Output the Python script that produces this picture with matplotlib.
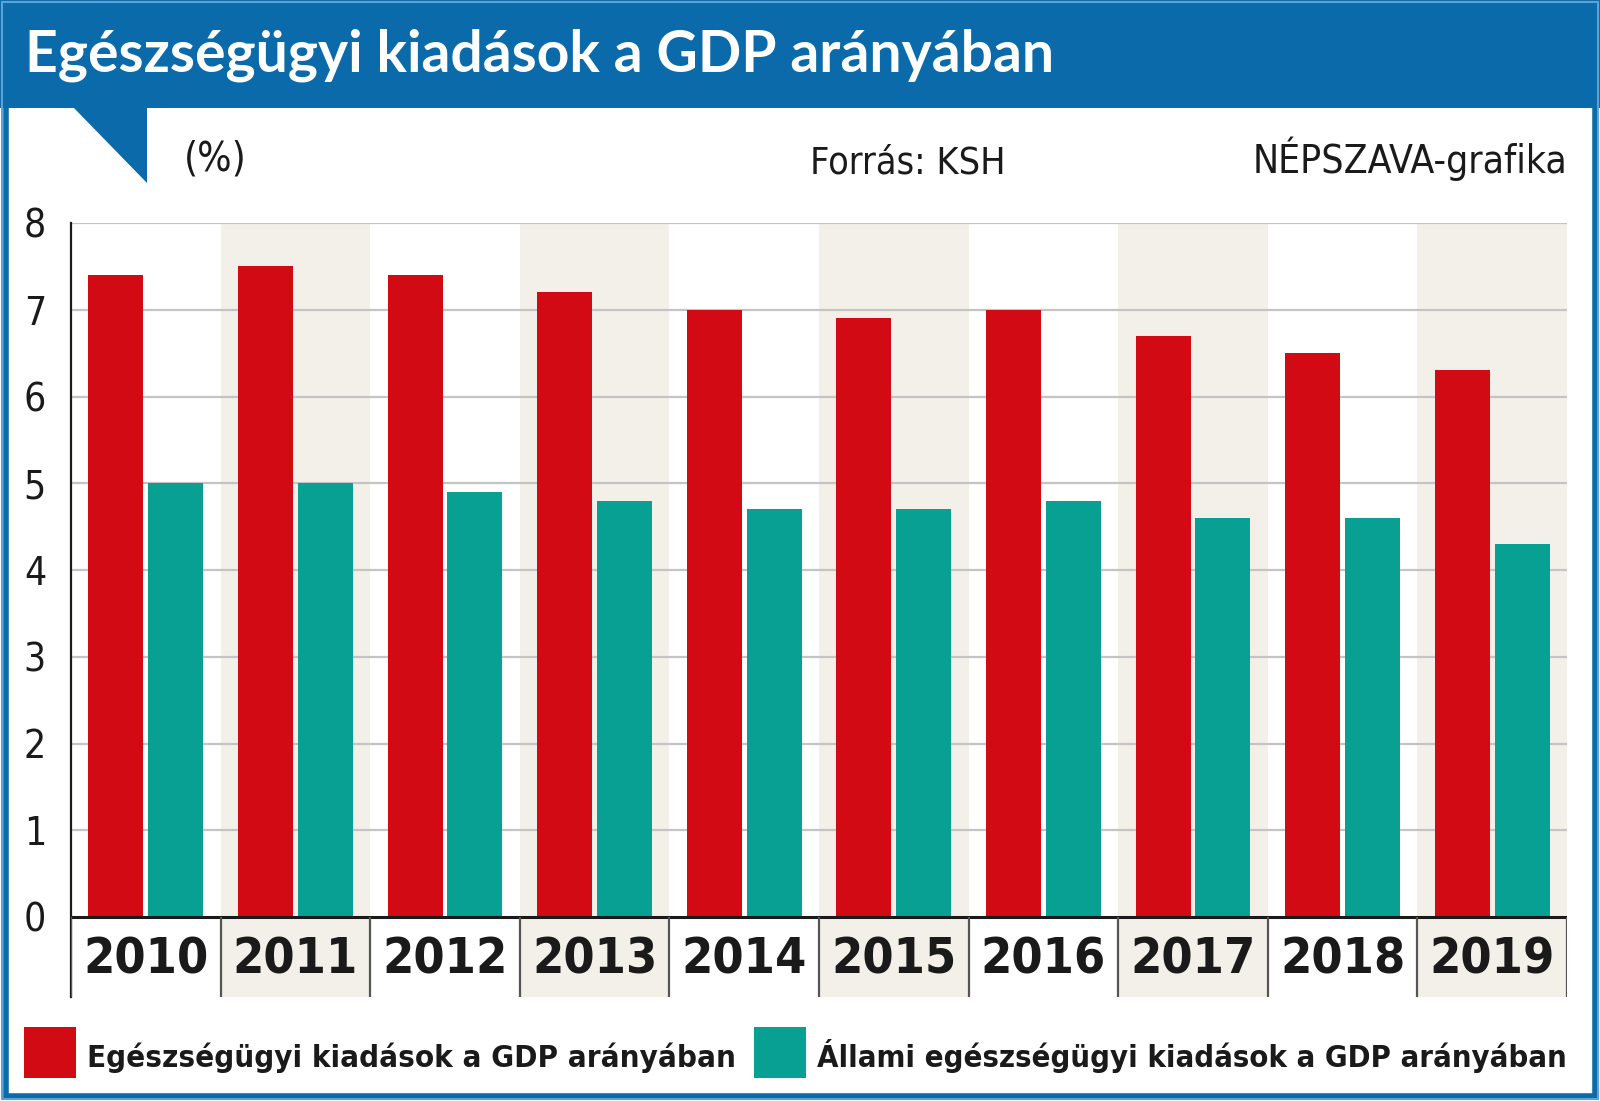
import numpy as np
import matplotlib
matplotlib.use("Agg")
from matplotlib import pyplot as plt
from matplotlib.patches import Rectangle, Polygon

years = ["2010", "2011", "2012", "2013", "2014", "2015", "2016", "2017", "2018", "2019"]
total = [7.4, 7.5, 7.4, 7.2, 7.0, 6.9, 7.0, 6.7, 6.5, 6.3]
public = [5.0, 5.0, 4.9, 4.8, 4.7, 4.7, 4.8, 4.6, 4.6, 4.3]
y_ticks = [0, 1, 2, 3, 4, 5, 6, 7, 8]

title = "Egészségügyi kiadások a GDP arányában"
label_total = "Egészségügyi kiadások a GDP arányában"
label_public = "Állami egészségügyi kiadások a GDP arányában"

BLUE = "#0b6aa9"
RED = "#d20a14"
TEAL = "#07a092"
BEIGE = "#f3f0e9"
GRID = "#c4c4c4"
INK = "#1a1a1a"
NARROW = ["DejaVu Sans Condensed", "DejaVu Sans"]
ST = "condensed"

W, H = 1600, 1101
fig = plt.figure(figsize=(W / 100, H / 100), dpi=100)

# overlay in pixel coords for the frame, title bar and legend
bg = fig.add_axes([0, 0, 1, 1], zorder=0)
bg.set_xlim(0, W)
bg.set_ylim(H, 0)
bg.axis("off")
bg.add_patch(Rectangle((0, 0), W, 108, color=BLUE, lw=0))
bg.add_patch(Polygon([(73, 107), (147, 107), (147, 183)], closed=True, color=BLUE, lw=0))
bg.add_patch(Rectangle((5.5, 5), W - 11, H - 10, fill=False, ec=BLUE, lw=4))
bg.add_patch(Rectangle((2, 2), W - 4, H - 4, fill=False, ec="#5aa3d6", lw=1.5))
bg.text(25, 72, title, color="white", fontsize=41, fontweight="bold",
        family=["Lato", "DejaVu Sans"], va="baseline")
bg.text(184, 170, "(%)", color=INK, fontsize=29, fontweight="medium", family=NARROW,
        stretch=ST, va="baseline")
bg.text(810, 173, "Forrás: KSH", color=INK, fontsize=27, family=NARROW, stretch=ST,
        va="baseline")
bg.text(1567, 173, "NÉPSZAVA-grafika", color=INK, fontsize=28, family=NARROW, stretch=ST,
        va="baseline", ha="right")

bg.add_patch(Rectangle((24, 1027), 52, 51, color=RED, lw=0))
bg.text(87, 1067, label_total, color=INK, fontsize=22.4, fontweight="bold",
        family=NARROW, stretch=ST, va="baseline")
bg.add_patch(Rectangle((754, 1027), 52, 51, color=TEAL, lw=0))
bg.text(817, 1067, label_public, color=INK, fontsize=22.2, fontweight="bold",
        family=NARROW, stretch=ST, va="baseline")

# chart axes: y=8 at px 223, y=0 at px 917, bottom of year row at px 997
left, right, top, bottom = 71, 1567, 223, 997
ax = fig.add_axes([left / W, 1 - bottom / H, (right - left) / W, (bottom - top) / H], zorder=1)
ax.patch.set_alpha(0)
ylo = -(bottom - 917) / ((917 - top) / 8)
ax.set_ylim(ylo, 8)
ax.set_xlim(-0.5, len(years) - 0.5)

x = np.arange(len(years))
for i in x:
    if i % 2 == 1:
        ax.axvspan(i - 0.5, i + 0.5, color=BEIGE, lw=0, zorder=0)
for t in y_ticks[1:]:
    ax.axhline(t, color=GRID, lw=1.6, zorder=1)

w = 0.368
ax.bar(x - 0.2, total, w, color=RED, zorder=2)
ax.bar(x + 0.2, public, w, color=TEAL, zorder=2)

ax.axhline(0, color=INK, lw=2.2, zorder=3)
ax.vlines(np.arange(len(years) + 1) - 0.5, ylo, 0, color="#555555", lw=1.6, zorder=3)
for i, yr in zip(x, years):
    ax.text(i, ylo / 2 - 0.03, yr, ha="center", va="center", fontsize=36,
            fontweight="bold", family=NARROW, stretch=ST, color=INK)

for s in ["top", "right", "bottom"]:
    ax.spines[s].set_visible(False)
ax.spines["left"].set_color(INK)
ax.spines["left"].set_linewidth(1.6)
ax.set_xticks([])
ax.set_yticks(y_ticks)
ax.set_yticklabels([str(t) for t in y_ticks], fontsize=28, family=NARROW, stretch=ST,
                   color=INK)
ax.tick_params(axis="y", length=0, pad=18)

fig.savefig("out.png", dpi=100)
